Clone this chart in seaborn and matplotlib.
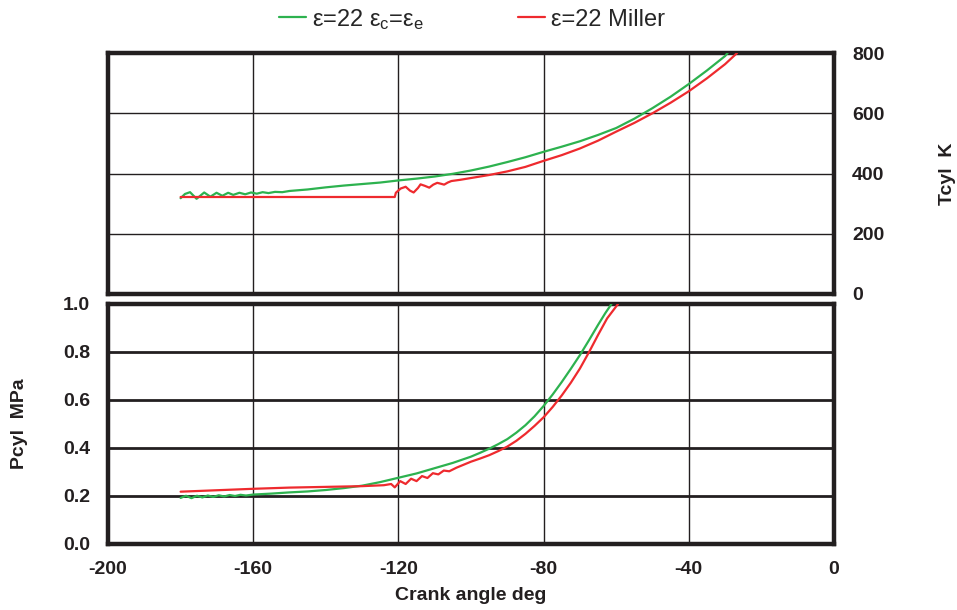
import numpy as np
import pandas as pd
import matplotlib
matplotlib.use("Agg")
import matplotlib.pyplot as plt
import seaborn as sns

# ---------------- data ----------------
green_T_angle = [-180, -178.8, -177.4, -175.6, -173.5, -171.8, -170.1, -168.5, -166.9, -165.5,
                 -163.8, -162.2, -160.6, -159, -157.4, -155.8, -154, -152, -150, -145, -140,
                 -135, -130, -125, -120, -115, -110, -105, -100, -95, -90, -85, -80, -75, -70,
                 -65, -60, -55, -50, -45, -40, -35, -30, -29.3]
green_T = [318, 332, 338, 316, 337, 323, 336, 326, 336, 329,
           336, 331, 337, 333, 338, 335, 339, 338, 342, 347, 354,
           360, 365, 370, 377, 383, 390, 399, 410, 423, 438, 454, 472, 489, 507,
           528, 551, 582, 617, 655, 697, 742, 790, 800]

red_T_angle = [-180, -170, -160, -150, -140, -130, -121, -120.7, -119.4, -118, -116.8, -115.8,
               -114.6, -113.9, -112.7, -111.5, -110.4, -109.3, -108.3, -107.4, -106.4, -105.4,
               -103, -100, -95, -90, -85, -80, -75, -70, -65, -60, -55, -50, -45, -40, -35,
               -30, -26.7]
red_T = [322, 322, 322, 322, 322, 322, 322, 336, 350, 356, 343, 337,
         352, 364, 359, 353, 363, 369, 366, 363, 370, 375,
         379, 385, 395, 407, 422, 442, 461, 483, 509, 539, 568, 600, 635, 673, 716,
         763, 800]

green_P_angle = [-180, -178.5, -177, -175.5, -174, -172.5, -171, -169.5, -168, -166.5, -165,
                 -163.5, -162, -160, -155, -150, -145, -140, -135, -130, -125, -120, -115,
                 -110, -105, -100, -97.5, -95, -92.5, -90, -87.5, -85, -82.5, -80, -77.5, -75,
                 -72.5, -70, -67.5, -65, -63, -61.3]
green_P = [0.192, 0.201, 0.191, 0.201, 0.194, 0.202, 0.196, 0.203, 0.198, 0.204, 0.200,
           0.205, 0.202, 0.206, 0.210, 0.215, 0.219, 0.225, 0.233, 0.243, 0.258, 0.276, 0.294,
           0.316, 0.338, 0.364, 0.380, 0.397, 0.416, 0.437, 0.464, 0.495, 0.532, 0.575, 0.623, 0.675,
           0.730, 0.787, 0.849, 0.913, 0.962, 1.000]

red_P_angle = [-180, -170, -160, -150, -140, -130, -124, -122, -121, -119.5, -118, -116.5, -115,
               -113.5, -112, -110.5, -109, -107.5, -106, -104, -100, -97.5, -95, -92.5, -90,
               -87.5, -85, -82.5, -80, -77.5, -75, -72.5, -70, -67.5, -65, -62.5, -59.5]
red_P = [0.218, 0.224, 0.230, 0.235, 0.238, 0.241, 0.245, 0.250, 0.236, 0.262, 0.250, 0.272, 0.262,
         0.283, 0.275, 0.295, 0.290, 0.306, 0.303, 0.318, 0.343, 0.356, 0.370, 0.387, 0.406,
         0.430, 0.459, 0.492, 0.528, 0.571, 0.619, 0.672, 0.731, 0.799, 0.871, 0.940, 1.000]

labels = ["ε=22 $ε_c$=$ε_e$", "ε=22 Miller"]
colors = ["#2db24f", "#ee2a2e"]

x_ticks = [-200, -160, -120, -80, -40, 0]
T_ticks = [0, 200, 400, 600, 800]
P_ticks = [0.0, 0.2, 0.4, 0.6, 0.8, 1.0]

# ---------------- style ----------------
sns.set_style("white")
plt.rcParams['font.family'] = ['Liberation Sans', 'DejaVu Sans']
plt.rcParams['mathtext.fontset'] = 'custom'
plt.rcParams['mathtext.rm'] = 'Liberation Sans'
plt.rcParams['mathtext.it'] = 'Liberation Sans'
plt.rcParams['mathtext.default'] = 'regular'
plt.rcParams['axes.unicode_minus'] = False

fig = plt.figure(figsize=(9.57, 6.10), dpi=100)
W, H = 957, 610
axT = fig.add_axes([108 / W, 1 - 294 / H, 726 / W, 241 / H])
axP = fig.add_axes([108 / W, 1 - 544 / H, 726 / W, 240 / H])

dfTg = pd.DataFrame({"angle": green_T_angle, "T": green_T})
dfTr = pd.DataFrame({"angle": red_T_angle, "T": red_T})
dfPg = pd.DataFrame({"angle": green_P_angle, "P": green_P})
dfPr = pd.DataFrame({"angle": red_P_angle, "P": red_P})

lw = 1.6
sns.lineplot(data=dfTg, x="angle", y="T", ax=axT, color=colors[0], lw=lw, sort=False, zorder=3)
sns.lineplot(data=dfTr, x="angle", y="T", ax=axT, color=colors[1], lw=lw, sort=False, zorder=3)
sns.lineplot(data=dfPg, x="angle", y="P", ax=axP, color=colors[0], lw=lw, sort=False, zorder=3)
sns.lineplot(data=dfPr, x="angle", y="P", ax=axP, color=colors[1], lw=lw, sort=False, zorder=3)

frame_c = "#231f20"
tick_fs = 14
lab_fs = 14
for ax in (axT, axP):
    ax.set_xlim(-200, 0)
    ax.set_xticks(x_ticks)
    for s in ax.spines.values():
        s.set_linewidth(3.2)
        s.set_color(frame_c)
        s.set_visible(True)
    ax.grid(False)
    for xv in x_ticks[1:-1]:
        ax.axvline(xv, color=frame_c, lw=1.0, zorder=1)

# top panel
axT.set_ylim(0, 800)
axT.set_yticks(T_ticks)
for yv in T_ticks[1:-1]:
    axT.axhline(yv, color=frame_c, lw=1.0, zorder=1)
axT.yaxis.tick_right()
axT.yaxis.set_label_position("right")
axT.tick_params(axis='x', length=0, labelbottom=False)
axT.tick_params(axis='y', length=0, pad=13, labelsize=tick_fs)
for lab in axT.get_yticklabels():
    lab.set_fontweight('bold')
    lab.set_color(frame_c)
axT.set_xlabel("")
axT.set_ylabel("Tcyl  K", fontsize=lab_fs, fontweight='bold', color=frame_c)
axT.yaxis.set_label_coords((948 - 108) / 726, 0.5)

# bottom panel
axP.set_ylim(0, 1.0)
axP.set_yticks(P_ticks)
axP.set_yticklabels([f"{v:.1f}" for v in P_ticks])
for yv in P_ticks[1:-1]:
    axP.axhline(yv, color=frame_c, lw=2.0, zorder=1)
axP.tick_params(axis='both', length=0, labelsize=tick_fs)
axP.tick_params(axis='y', pad=13)
axP.tick_params(axis='x', pad=12)
for lab in axP.get_yticklabels() + axP.get_xticklabels():
    lab.set_fontweight('bold')
    lab.set_color(frame_c)
axP.set_xlabel("Crank angle deg", fontsize=lab_fs, fontweight='bold', color=frame_c)
axP.xaxis.set_label_coords(0.5, -(596 - 544) / 240)
axP.set_ylabel("Pcyl  MPa", fontsize=lab_fs, fontweight='bold', color=frame_c)
axP.yaxis.set_label_coords(-(108 - 20) / 726, 0.5)
axP.xaxis.label.set_va('center')
axP.yaxis.label.set_va('center')
axT.yaxis.label.set_va('center')

handles = [plt.Line2D([], [], color=c, lw=1.6) for c in colors]
fig.legend(handles, labels, loc='upper center', bbox_to_anchor=(0.4935, 1.024), ncol=2,
           frameon=False, fontsize=17, handlelength=1.14, handletextpad=0.25,
           columnspacing=4.0)

fig.savefig("out.png", dpi=100)
